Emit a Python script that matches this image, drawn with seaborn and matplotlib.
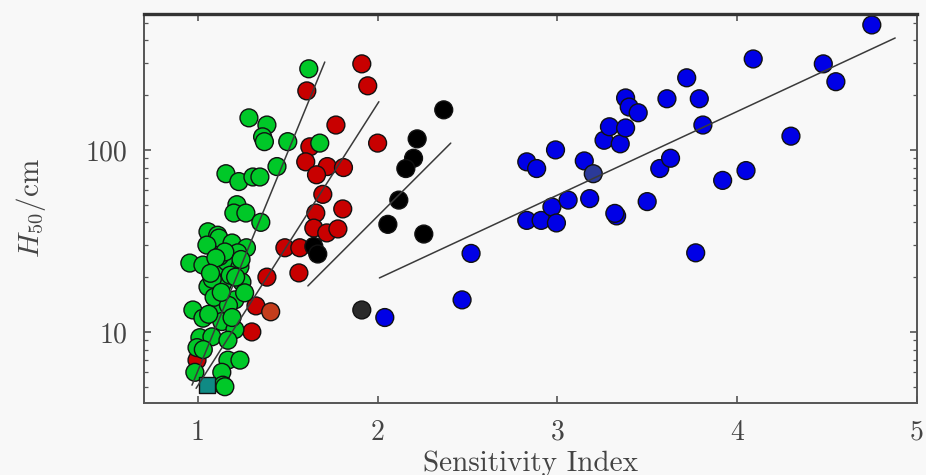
import numpy as np
import pandas as pd
import matplotlib
matplotlib.use("Agg")
import matplotlib.pyplot as plt
from matplotlib.ticker import FixedLocator, FixedFormatter, LogLocator, NullFormatter
import seaborn as sns

# --- data: sensitivity index vs. H50 drop height (cm) ---
green_x = [1.617, 1.284, 1.384, 1.36, 1.37, 1.50, 1.678, 1.44, 1.156, 1.228, 1.306, 1.345,
           1.217, 1.20, 1.267, 1.35, 1.056, 1.11, 1.117, 1.19, 1.27, 1.222, 1.05, 0.955,
           1.028, 1.106, 1.161, 1.234, 1.245, 1.139, 1.056, 1.206, 1.26, 1.106, 0.972,
           1.028, 1.133, 1.206, 1.011, 1.078, 1.167, 0.995, 1.167, 1.234, 0.983, 1.133,
           1.139, 1.15, 1.09, 1.18, 1.03, 1.12, 1.08, 1.15, 1.21, 1.10, 1.17, 1.06,
           1.24, 1.13, 1.19, 1.07]
green_y = [279, 150, 137, 118, 111, 111, 109, 81, 74, 67, 71, 71,
           50, 45, 45, 40, 35.5, 34, 32.8, 30.8, 29, 27.2, 30, 23.9,
           23.3, 21.9, 24.3, 22.8, 18.8, 18.6, 17.7, 15.0, 16.4, 13.2, 13.2,
           11.9, 11.4, 10.3, 9.3, 9.4, 9.0, 8.2, 7.0, 7.0, 6.0, 6.0,
           5.1, 5.0, 15.5, 20.5, 8.0, 26.0, 19.5, 27.5, 20.0, 25.5, 14.0, 12.5,
           25.0, 16.5, 12.0, 21.0]

red_x = [1.912, 1.945, 1.606, 1.768, 2.00, 1.623, 1.60, 1.72, 1.81, 1.66, 1.695, 1.806,
         1.656, 1.645, 1.717, 1.779, 1.484, 1.567, 1.562, 1.384, 1.323, 1.30, 0.995]
red_y = [297, 225, 211, 137, 109, 104, 86, 81, 80, 73, 57, 47.4,
         45, 37.2, 35, 36.8, 29, 29, 21.1, 20, 13.9, 10, 7.0]

black_x = [2.368, 2.22, 2.20, 2.157, 2.118, 2.057, 2.257, 1.645, 1.667]
black_y = [166, 115, 90, 79, 53, 39, 34.5, 29.5, 26.8]

blue_x = [2.04, 2.47, 2.52, 2.83, 2.885, 2.99, 2.83, 2.91, 2.97, 2.995, 3.06, 3.18,
          3.15, 3.26, 3.29, 3.35, 3.38, 3.38, 3.40, 3.45, 3.33, 3.32, 3.50, 3.57,
          3.63, 3.61, 3.72, 3.79, 3.81, 3.77, 3.92, 4.05, 4.09, 4.30, 4.48, 4.55, 4.75]
blue_y = [12, 15, 27, 86, 79, 100, 41, 41, 48.6, 39.7, 53, 54,
          87, 113, 134, 108, 132, 193, 172, 160, 43.4, 44.8, 52, 79,
          90, 191, 249, 191, 137, 27.2, 68, 77, 316, 119, 297, 237, 486]

# single samples shown in their own shade
extra_x = [1.05, 1.405, 3.20, 1.912]
extra_y = [5.1, 12.9, 74, 13.2]
extra_kind = ["teal", "orange", "navy", "dark"]

# end points of the fitted trend lines (log-linear fits per group)
fit_green_x = [0.967, 1.706]
fit_green_y = [5.1, 304]
fit_red_x = [0.99, 2.007]
fit_red_y = [4.9, 184]
fit_black_x = [1.612, 2.407]
fit_black_y = [17.9, 109]
fit_blue_x = [2.01, 4.88]
fit_blue_y = [19.8, 412]

xticks = [1, 2, 3, 4, 5]
yticks = [10, 100]

# --- style ---
sns.set_theme(style="ticks")
bg = "#f8f8f8"
plt.rcParams.update({
    "font.family": ["cmr10", "DejaVu Serif"],
    "mathtext.fontset": "cm",
    "axes.formatter.use_mathtext": True,
    "figure.facecolor": bg,
    "axes.facecolor": bg,
    "axes.edgecolor": "#555555",
    "axes.linewidth": 1.4,
})

fig = plt.figure(figsize=(9.26, 4.75), dpi=100)
ax = fig.add_axes([0.1555, 0.1516, 0.8345, 0.8189])

df = pd.concat([
    pd.DataFrame({"si": red_x, "h50": red_y, "group": "red"}),
    pd.DataFrame({"si": green_x, "h50": green_y, "group": "green"}),
    pd.DataFrame({"si": black_x, "h50": black_y, "group": "black"}),
    pd.DataFrame({"si": blue_x, "h50": blue_y, "group": "blue"}),
    pd.DataFrame({"si": extra_x[1:], "h50": extra_y[1:], "group": extra_kind[1:]}),
], ignore_index=True)

palette = {"red": "#c80000", "green": "#00c828", "black": "#000000", "blue": "#0000e6",
           "orange": "#c43d1c", "navy": "#2b3a99", "dark": "#2a2a2a"}

ax.set_yscale("log")
sns.scatterplot(data=df, x="si", y="h50", hue="group", palette=palette,
                s=165, edgecolor="#111111", linewidth=1.0, legend=False, ax=ax, zorder=2)
sns.scatterplot(x=extra_x[:1], y=extra_y[:1], color="#0f8a84", marker="s", s=140,
                edgecolor="#111111", linewidth=1.0, legend=False, ax=ax, zorder=2)

for fx, fy in [(fit_green_x, fit_green_y), (fit_red_x, fit_red_y),
               (fit_black_x, fit_black_y), (fit_blue_x, fit_blue_y)]:
    ax.plot(fx, fy, color="#3a3a3a", lw=1.1, zorder=3)

ax.set_xlim(0.70, 5.0)
ax.set_ylim(4.07, 558)

ax.xaxis.set_major_locator(FixedLocator(xticks))
ax.xaxis.set_major_formatter(FixedFormatter([str(t) for t in xticks]))
ax.yaxis.set_major_locator(FixedLocator(yticks))
ax.yaxis.set_major_formatter(FixedFormatter([str(t) for t in yticks]))
ax.yaxis.set_minor_locator(LogLocator(base=10, subs=np.arange(2, 10)))
ax.yaxis.set_minor_formatter(NullFormatter())

ax.tick_params(which="both", direction="in", top=True, right=True, colors="#555555",
               labelcolor="#444444", labelsize=20)
ax.tick_params(which="major", length=5, width=1.2, pad=12)
ax.tick_params(which="minor", length=3, width=0.9)
ax.spines["top"].set_linewidth(2.4)
ax.spines["top"].set_color("#333333")

ax.set_xlabel("Sensitivity Index", fontsize=21, color="#444444", labelpad=3)
ax.set_ylabel(r"$H_{50}/\mathrm{cm}$", fontsize=21, color="#444444", labelpad=27)

fig.savefig("out.png", dpi=100, facecolor=bg)
